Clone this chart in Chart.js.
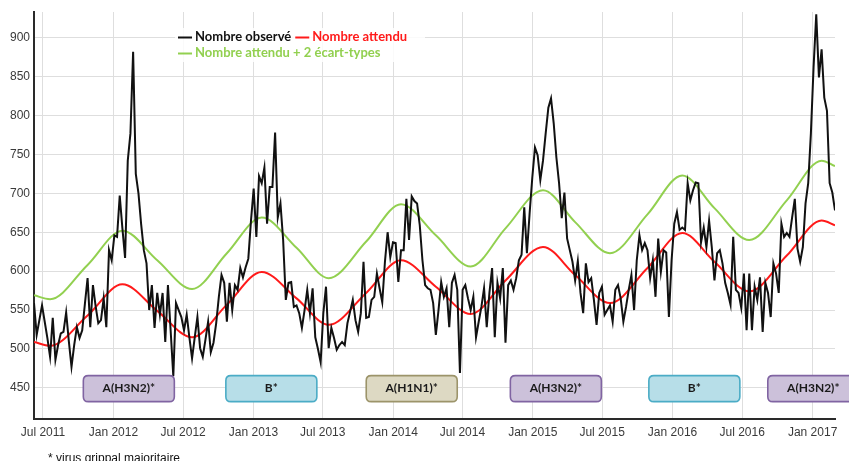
<!DOCTYPE html>
<html><head><meta charset="utf-8">
<script src="https://cdn.jsdelivr.net/npm/chart.js@4.4.1/dist/chart.umd.min.js"></script>
<style>html,body{margin:0;padding:0;background:#fff;}#wrap{width:849px;height:461px;position:relative;}</style>
</head><body><div id="wrap"><canvas id="c" width="849" height="461"></canvas></div>
<script>
// weekly observed counts (first week ~ 7 June 2011)
const observed = [
559,518,537,556,535,514,490,540,486,505,
520,522,547,510,477,505,528,514,524,558,
591,528,582,555,533,537,565,528,627,614,
646,644,697,655,617,742,777,882,725,700,
660,627,610,550,582,527,572,544,572,509,
582,524,465,559,550,541,524,544,515,488,
515,541,501,490,512,535,496,508,533,567,
595,585,535,585,550,582,576,604,592,605,
616,665,706,644,722,713,733,661,708,708,
778,669,687,640,563,585,586,554,556,546,
527,550,576,546,578,515,500,483,546,580,
501,527,514,499,505,509,505,533,548,563,
537,522,546,612,540,541,563,567,597,578,
560,612,650,618,637,636,586,627,627,693,
640,696,690,687,659,614,582,578,576,559,
518,550,586,567,578,528,585,595,576,469,
576,582,565,550,567,515,535,554,578,528,
572,604,515,585,565,604,508,582,588,576,
591,614,621,682,623,674,720,759,749,717,
742,777,810,822,790,746,713,668,701,642,
627,612,588,613,572,546,610,586,591,563,
531,572,580,544,550,556,535,576,582,565,
535,554,576,595,550,614,646,627,636,627,
591,614,567,642,599,627,624,541,614,661,
676,653,656,653,713,691,704,714,713,637,
656,631,665,631,588,623,627,610,585,572,
557,644,576,572,553,597,524,597,524,580,
563,592,522,585,572,541,610,597,572,661,
644,649,644,669,693,629,612,631,687,713,
777,862,930,849,885,823,806,713,701,678
];
// smooth curves read at key weeks
const curveWeeks = [0,6,20,33,46,59,72,85,98,110,124,137,150,163,176,190,202,215,229,242,254,267,281,294,299];
const expected  = [509,504,543,583,549,515,557,599,565,531,572,614,580,545,588,631,595,559,604,649,612,574,620,665,659];
const threshold = [569,564,608,652,614,577,623,669,630,591,638,686,646,606,655,704,663,623,673,723,681,640,691,742,735];
const yTicks = [450,500,550,600,650,700,750,800,850,900];
const xTickLabels = ['Jul 2011','Jan 2012','Jul 2012','Jan 2013','Jul 2013','Jan 2014','Jul 2014','Jan 2015','Jul 2015','Jan 2016','Jul 2016','Jan 2017'];
const xTickDates = ['2011-07-01','2012-01-01','2012-07-01','2013-01-01','2013-07-01','2014-01-01','2014-07-01','2015-01-01','2015-07-01','2016-01-01','2016-07-01','2017-01-01'];
const seasonLabels = ['A(H3N2)*','B*','A(H1N1)*','A(H3N2)*','B*','A(H3N2)*'];
const seriesNames = ['Nombre observé','Nombre attendu','Nombre attendu + 2 écart-types'];
const footnote = '* virus grippal majoritaire';

const firstWeek = Date.UTC(2011,5,7,12);
const WEEK = 7*864e5;
const tickWeeks = xTickDates.map(d => (Date.parse(d+'T00:00:00Z') - firstWeek)/WEEK);

const colors = {obs:'#111111', exp:'#ff1a1a', thr:'#92d050'};

const seasonStyle = [
  {fill:'#ccc1da', stroke:'#8064a2', w:35.4},
  {fill:'#b7dee8', stroke:'#4bacc6', w:88.6},
  {fill:'#ddd9c3', stroke:'#9c946a', w:141},
  {fill:'#ccc1da', stroke:'#8064a2', w:194.8},
  {fill:'#b7dee8', stroke:'#4bacc6', w:246.5},
  {fill:'#ccc1da', stroke:'#8064a2', w:290.9}
];

function rr(ctx,x,y,w,h,r){ctx.beginPath();ctx.moveTo(x+r,y);ctx.lineTo(x+w-r,y);ctx.quadraticCurveTo(x+w,y,x+w,y+r);ctx.lineTo(x+w,y+h-r);ctx.quadraticCurveTo(x+w,y+h,x+w-r,y+h);ctx.lineTo(x+r,y+h);ctx.quadraticCurveTo(x,y+h,x,y+h-r);ctx.lineTo(x,y+r);ctx.quadraticCurveTo(x,y,x+r,y);ctx.closePath();}

const decor = {
  id:'decor',
  afterDatasetsDraw(chart){
    const ctx = chart.ctx, xs = chart.scales.x, ys = chart.scales.y;
    ctx.save();
    const cy = ys.getPixelForValue(449);
    seasonLabels.forEach((lab,i)=>{
      const s = seasonStyle[i];
      const cx = xs.getPixelForValue(s.w);
      const bw = 91, bh = 26;
      rr(ctx, cx-bw/2, cy-bh/2, bw, bh, 5);
      ctx.fillStyle = s.fill; ctx.fill();
      ctx.lineWidth = 1.6; ctx.strokeStyle = s.stroke; ctx.stroke();
      ctx.fillStyle = '#1a1a1a';
      ctx.font = 'bold 12px Lato';
      ctx.textAlign='center'; ctx.textBaseline='middle';
      ctx.fillText(lab, cx, cy-1);
    });
    ctx.restore();
  },
  afterDraw(chart){
    const ctx = chart.ctx;
    ctx.save();
    // legend
    ctx.font = 'bold 13px Lato';
    const x0 = 178, y1 = 37, y2 = 53;
    ctx.fillStyle = 'rgba(255,255,255,0.85)';
    ctx.fillRect(x0-3, y1-9, 250, y2-y1+18);
    ctx.textBaseline='middle'; ctx.textAlign='left';
    const item = (x,y,col,txt)=>{
      ctx.strokeStyle = col; ctx.lineWidth = 2;
      ctx.beginPath(); ctx.moveTo(x,y+0.5); ctx.lineTo(x+14,y+0.5); ctx.stroke();
      ctx.fillStyle = col; ctx.fillText(txt, x+17, y);
      return x+17+ctx.measureText(txt).width;
    };
    let nx = item(x0, y1, colors.obs, seriesNames[0]);
    item(nx+4, y1, colors.exp, seriesNames[1]);
    item(x0, y2, colors.thr, seriesNames[2]);
    // footnote
    ctx.font = '12px "Liberation Sans"';
    ctx.fillStyle = '#111'; ctx.textBaseline='alphabetic';
    ctx.fillText(footnote, 48, 462);
    ctx.restore();
  }
};

new Chart(document.getElementById('c'), {
  type:'line',
  data:{
    datasets:[
      {label:seriesNames[0], data:observed.map((v,i)=>({x:i,y:v})), borderColor:colors.obs, borderWidth:2, pointRadius:0, tension:0, order:0},
      {label:seriesNames[1], data:curveWeeks.map((w,i)=>({x:w,y:expected[i]})), borderColor:colors.exp, borderWidth:2, pointRadius:0, cubicInterpolationMode:'monotone', order:1},
      {label:seriesNames[2], data:curveWeeks.map((w,i)=>({x:w,y:threshold[i]})), borderColor:colors.thr, borderWidth:2, pointRadius:0, cubicInterpolationMode:'monotone', order:2}
    ]
  },
  options:{
    responsive:false, animation:false, devicePixelRatio:1,
    layout:{padding:{left:0,top:12,right:14,bottom:0}},
    plugins:{legend:{display:false}, tooltip:{enabled:false}},
    scales:{
      x:{type:'linear', min:0, max:observed.length-1,
        afterBuildTicks:(s)=>{s.ticks = tickWeeks.map(v=>({value:v}));},
        afterFit:(s)=>{s.height = 42;},
        ticks:{autoSkip:false, maxRotation:0, padding:6, color:'#3a3a3a', font:{family:'"Liberation Sans"', size:12},
          callback:(v,i)=>xTickLabels[i]},
        grid:{color:'#dedede', lineWidth:1, drawTicks:false},
        border:{display:true, color:'#2a2a2a', width:2}
      },
      y:{type:'linear', min:410, max:933,
        afterBuildTicks:(s)=>{s.ticks = yTicks.map(v=>({value:v}));},
        afterFit:(s)=>{s.width = 34;},
        ticks:{padding:4, color:'#3a3a3a', font:{family:'"Liberation Sans"', size:12}, callback:(v)=>String(v)},
        grid:{color:'#dedede', lineWidth:1, drawTicks:false},
        border:{display:true, color:'#2a2a2a', width:2}
      }
    }
  },
  plugins:[decor]
});
</script></body></html>
